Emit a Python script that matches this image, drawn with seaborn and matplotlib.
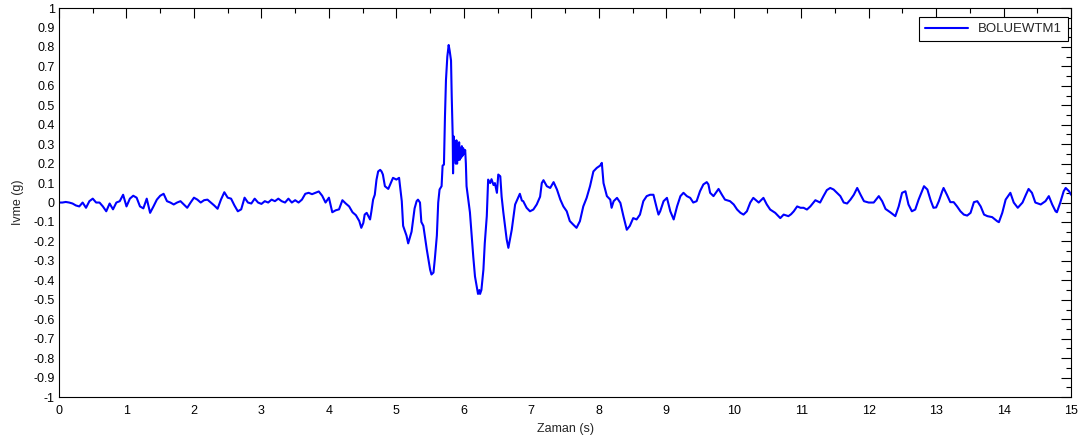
import numpy as np
import pandas as pd
import matplotlib
matplotlib.use("Agg")
import matplotlib.pyplot as plt
import seaborn as sns
from matplotlib.ticker import MultipleLocator, FuncFormatter

# acceleration record, in three pieces
t_start = [0.00, 0.05, 0.10, 0.15, 0.20, 0.25, 0.30, 0.35, 0.40, 0.45, 0.50, 0.55, 0.60, 0.65,
           0.70, 0.75, 0.80, 0.85, 0.90, 0.95, 1.00, 1.05, 1.10, 1.15, 1.20, 1.25, 1.30, 1.35,
           1.40, 1.45, 1.50, 1.55, 1.60, 1.65, 1.70, 1.75, 1.80, 1.85, 1.90, 1.95, 2.00, 2.05,
           2.10, 2.15, 2.20, 2.25, 2.30, 2.35, 2.40, 2.45, 2.50, 2.55, 2.60, 2.65, 2.70, 2.75,
           2.80, 2.85, 2.90, 2.95, 3.00, 3.05, 3.10, 3.15, 3.20, 3.25, 3.30, 3.35, 3.40, 3.45,
           3.50, 3.55, 3.60, 3.65, 3.70, 3.75, 3.80, 3.85, 3.90]
a_start = [0.000, 0.000, 0.003, 0.000, -0.005, -0.015, -0.020, 0.000, -0.027, 0.007, 0.020, 0.000,
           0.000, -0.020, -0.045, -0.005, -0.035, 0.000, 0.007, 0.040, -0.020, 0.020, 0.035, 0.025,
           -0.020, -0.030, 0.020, -0.053, -0.020, 0.015, 0.035, 0.045, 0.007, 0.000, -0.010, 0.000,
           0.007, -0.010, -0.027, 0.000, 0.025, 0.015, 0.000, 0.012, 0.015, 0.000, -0.015, -0.032,
           0.015, 0.053, 0.025, 0.020, -0.015, -0.045, -0.035, 0.025, 0.000, -0.005, 0.020, 0.000,
           -0.007, 0.007, 0.000, 0.015, 0.007, 0.020, 0.007, 0.000, 0.020, 0.000, 0.012, 0.000,
           0.015, 0.045, 0.050, 0.043, 0.050, 0.057, 0.035]

t_strong = [3.95, 4.00, 4.05, 4.10, 4.15, 4.20, 4.25, 4.30, 4.35, 4.40, 4.45, 4.48, 4.51, 4.53,
            4.56, 4.61, 4.63, 4.655, 4.68, 4.705, 4.73, 4.76, 4.78, 4.80, 4.83, 4.88, 4.93, 4.95,
            5.00, 5.04, 5.08, 5.10, 5.15, 5.175, 5.225, 5.27, 5.30, 5.32, 5.35, 5.37, 5.40, 5.45,
            5.50, 5.52, 5.55, 5.57, 5.60, 5.62, 5.64, 5.67, 5.685, 5.705, 5.72, 5.735, 5.755, 5.775,
            5.79, 5.81, 5.82, 5.835, 5.84, 5.85, 5.86, 5.87, 5.88, 5.89, 5.90, 5.91, 5.92, 5.93,
            5.94, 5.95, 5.96, 5.97, 5.98, 5.99, 6.00, 6.02, 6.03, 6.04, 6.09, 6.14, 6.165, 6.21,
            6.23, 6.24, 6.26, 6.29, 6.31, 6.34, 6.36, 6.39, 6.41, 6.44, 6.46, 6.49, 6.51, 6.54,
            6.56, 6.585, 6.635, 6.66, 6.71, 6.76, 6.81, 6.83, 6.86, 6.88, 6.93, 6.98, 7.03, 7.08,
            7.13, 7.155, 7.18, 7.23, 7.28, 7.33, 7.38, 7.43, 7.475, 7.525, 7.57, 7.62, 7.67, 7.72,
            7.77, 7.82, 7.87, 7.92, 7.97, 8.02, 8.045, 8.07, 8.12, 8.17, 8.19, 8.22, 8.27, 8.32,
            8.365, 8.415, 8.46, 8.51, 8.56, 8.61, 8.66, 8.71, 8.76, 8.81, 8.86]
a_strong = [0.000, 0.025, -0.050, -0.040, -0.035, 0.012, -0.005, -0.020, -0.050, -0.065, -0.095,
            -0.130, -0.105, -0.062, -0.053, -0.087, -0.045, 0.015, 0.040, 0.117, 0.160, 0.168,
            0.160, 0.144, 0.084, 0.070, 0.110, 0.127, 0.118, 0.127, 0.007, -0.120, -0.170, -0.210,
            -0.150, -0.030, 0.007, 0.015, 0.000, -0.100, -0.120, -0.240, -0.345, -0.370, -0.360,
            -0.290, -0.170, 0.000, 0.067, 0.084, 0.190, 0.195, 0.440, 0.630, 0.750, 0.810, 0.780,
            0.730, 0.550, 0.340, 0.150, 0.340, 0.220, 0.300, 0.200, 0.320, 0.200, 0.300, 0.220,
            0.310, 0.220, 0.280, 0.230, 0.290, 0.240, 0.280, 0.250, 0.270, 0.200, 0.084, -0.050,
            -0.280, -0.380, -0.470, -0.450, -0.470, -0.450, -0.345, -0.210, -0.070, 0.118, 0.100,
            0.120, 0.090, 0.100, 0.050, 0.144, 0.135, 0.030, -0.050, -0.190, -0.233, -0.140,
            -0.010, 0.030, 0.045, 0.010, 0.007, -0.027, -0.045, -0.036, -0.010, 0.030, 0.100,
            0.115, 0.084, 0.075, 0.105, 0.067, 0.015, -0.020, -0.045, -0.095, -0.113, -0.130,
            -0.096, -0.020, 0.024, 0.084, 0.160, 0.178, 0.190, 0.204, 0.100, 0.033, 0.015, -0.027,
            0.007, 0.024, -0.002, -0.070, -0.140, -0.120, -0.080, -0.087, -0.062, 0.007, 0.033,
            0.040, 0.040, -0.030]

t_tail = [8.885, 8.91, 8.96, 9.01, 9.06, 9.11, 9.16, 9.21, 9.255, 9.305, 9.355, 9.40, 9.45, 9.50,
          9.55, 9.60, 9.625, 9.65, 9.70, 9.775, 9.825, 9.87, 9.945, 10.00, 10.05, 10.10, 10.145,
          10.195, 10.245, 10.29, 10.37, 10.44, 10.49, 10.54, 10.615, 10.69, 10.74, 10.81, 10.85,
          10.89, 10.94, 10.99, 11.035, 11.085, 11.135, 11.21, 11.28, 11.33, 11.38, 11.43, 11.48,
          11.53, 11.58, 11.63, 11.68, 11.73, 11.78, 11.83, 11.88, 11.93, 12.00, 12.075, 12.15,
          12.20, 12.25, 12.32, 12.395, 12.445, 12.495, 12.545, 12.59, 12.64, 12.69, 12.74, 12.82,
          12.87, 12.92, 12.96, 13.00, 13.04, 13.09, 13.11, 13.16, 13.21, 13.26, 13.31, 13.36,
          13.41, 13.46, 13.51, 13.56, 13.61, 13.66, 13.71, 13.76, 13.83, 13.905, 13.93, 13.98,
          14.03, 14.10, 14.15, 14.21, 14.28, 14.33, 14.37, 14.42, 14.47, 14.55, 14.62, 14.67,
          14.72, 14.77, 14.79, 14.84, 14.89, 14.92, 14.97, 15.00]
a_tail = [-0.062, -0.045, 0.007, 0.024, -0.045, -0.087, -0.020, 0.033, 0.050, 0.033, 0.024, 0.000,
          0.007, 0.058, 0.093, 0.105, 0.093, 0.050, 0.033, 0.070, 0.040, 0.015, 0.007, -0.010,
          -0.036, -0.053, -0.062, -0.045, 0.000, 0.024, 0.000, 0.024, -0.010, -0.036, -0.053,
          -0.080, -0.062, -0.070, -0.060, -0.045, -0.020, -0.027, -0.027, -0.036, -0.020, 0.012,
          0.000, 0.033, 0.064, 0.075, 0.067, 0.050, 0.033, 0.000, -0.005, 0.015, 0.040, 0.075,
          0.040, 0.007, 0.000, 0.000, 0.033, 0.007, -0.033, -0.050, -0.070, -0.020, 0.050, 0.058,
          -0.010, -0.045, -0.036, 0.015, 0.084, 0.067, 0.010, -0.027, -0.025, 0.007, 0.058, 0.075,
          0.040, 0.002, 0.002, -0.020, -0.045, -0.062, -0.067, -0.053, 0.002, 0.007, -0.020,
          -0.062, -0.070, -0.075, -0.096, -0.101, -0.053, 0.015, 0.050, 0.000, -0.027, 0.000,
          0.040, 0.070, 0.050, 0.000, -0.010, 0.007, 0.033, -0.010, -0.045, -0.050, 0.000, 0.058,
          0.075, 0.058, 0.040]

station = "BOLUEWTM1"

df = pd.DataFrame({
    "t": t_start + t_strong + t_tail,
    "a": a_start + a_strong + a_tail,
})

sns.set_style("white")
plt.rcParams["font.family"] = ["Liberation Sans", "DejaVu Sans"]

fig = plt.figure(figsize=(10.83, 4.43), dpi=100)
ax = fig.add_axes([0.0545, 0.1038, 0.9345, 0.878])

sns.lineplot(data=df, x="t", y="a", color="#0000ff", lw=1.5, sort=False,
             estimator=None, label=station, ax=ax)

ax.set_xlim(0, 15)
ax.set_ylim(-1, 1)
ax.xaxis.set_major_locator(MultipleLocator(1))
ax.xaxis.set_minor_locator(MultipleLocator(0.5))
ax.yaxis.set_major_locator(MultipleLocator(0.1))
ax.yaxis.set_minor_locator(MultipleLocator(0.05))
ax.yaxis.set_major_formatter(FuncFormatter(lambda v, p: f"{round(v, 2):g}"))
ax.xaxis.set_major_formatter(FuncFormatter(lambda v, p: f"{round(v):d}"))

ax.tick_params(which="both", direction="in", top=True, right=True, colors="black",
               labelsize=9, width=0.8)
ax.tick_params(which="major", length=7)
ax.tick_params(which="minor", length=3.5)
ax.tick_params(axis="x", pad=6)
ax.tick_params(axis="y", pad=3)

for s in ax.spines.values():
    s.set_color("black")
    s.set_linewidth(0.8)

ax.set_xlabel("Zaman (s)", fontsize=9, labelpad=4)
ax.set_ylabel("Ivme (g)", fontsize=9, labelpad=7)

leg = ax.legend(loc="upper right", bbox_to_anchor=(0.997, 0.977), borderaxespad=0,
                fancybox=False, framealpha=1, edgecolor="black", fontsize=9.5,
                handlelength=3.2, borderpad=0.45)
leg.get_frame().set_linewidth(0.8)

fig.savefig("out.png", dpi=100, facecolor="white")
